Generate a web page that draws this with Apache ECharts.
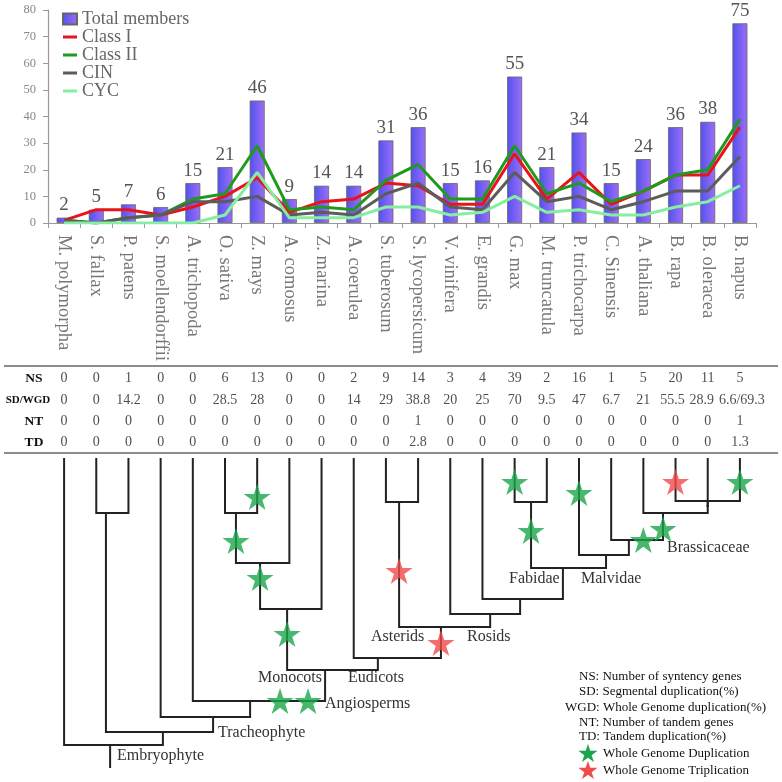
<!DOCTYPE html>
<html><head><meta charset="utf-8">
<script src="https://cdn.jsdelivr.net/npm/echarts@6/dist/echarts.min.js"></script>
<style>html,body{margin:0;padding:0;background:#fff}#c{width:782px;height:782px}</style>
</head><body><div id="c"></div>
<script>
// ---------- data ----------
const species = ['M. polymorpha','S. fallax','P. patens','S. moellendorffii','A. trichopoda','O. sativa','Z. mays','A. comosus','Z. marina','A. coerulea','S. tuberosum','S. lycopersicum','V. vinifera','E. grandis','G. max','M. truncatula','P. trichocarpa','C. Sinensis','A. thaliana','B. rapa','B. oleracea','B. napus'];
const totalMembers = [2,5,7,6,15,21,46,9,14,14,31,36,15,16,55,21,34,15,24,36,38,75];
const classI  = [1,5,5,3,6,10,17,4,8,9,15,14,7,7,26,9,19,7,12,18,18,36];
const classII = [1,0,2,3,9,11,29,5,6,5,16,22,9,9,29,11,15,8,12,18,20,39];
const cin     = [1,0,2,3,8,8,10,3,4,3,11,15,6,5,19,8,10,5,8,12,12,25];
const cyc     = [0,0,0,0,0,3,19,2,2,2,6,6,3,4,10,4,5,3,3,6,8,14];
const yMax = 80, yStep = 10;

const tableRows = ['NS','SD/WGD','NT','TD'];
const nsRow    = ['0','0','1','0','0','6','13','0','0','2','9','14','3','4','39','2','16','1','5','20','11','5'];
const sdwgdRow = ['0','0','14.2','0','0','28.5','28','0','0','14','29','38.8','20','25','70','9.5','47','6.7','21','55.5','28.9','6.6/69.3'];
const ntRow    = ['0','0','0','0','0','0','0','0','0','0','0','1','0','0','0','0','0','0','0','0','0','1'];
const tdRow    = ['0','0','0','0','0','0','0','0','0','0','0','2.8','0','0','0','0','0','0','0','0','0','1.3'];

// tree internal nodes: [name, childA, childB, x (species-index units), depth]
const treeNodes = [
  ['Bryophytes','S. fallax','P. patens',1.30,54],
  ['OZ','O. sativa','Z. mays',5.34,54],
  ['OZA','OZ','A. comosus',6.09,104],
  ['Monocots','OZA','Z. marina',6.93,150],
  ['Asterids','S. tuberosum','S. lycopersicum',10.41,43],
  ['Fabidae','G. max','M. truncatula',14.51,43],
  ['BrBn','B. rapa','B. napus',20.0,42],
  ['Brassica','B. oleracea','BrBn',20.0,47],
  ['Brassicaceae','A. thaliana','Brassica',18.61,54],
  ['CS','C. Sinensis','Brassicaceae',17.55,81],
  ['Malvidae','P. trichocarpa','CS',16.84,96],
  ['FabMal','Fabidae','Malvidae',15.50,109],
  ['EG','E. grandis','FabMal',14.17,140],
  ['Rosids','V. vinifera','EG',13.24,155],
  ['Core','Asterids','Rosids',11.71,168],
  ['Eudicots','A. coerulea','Core',9.75,199],
  ['Mesangio','Monocots','Eudicots',8.11,211],
  ['Angiosperms','A. trichopoda','Mesangio',5.78,242],
  ['Tracheophyte','S. moellendorffii','Angiosperms',4.63,258],
  ['Land','Bryophytes','Tracheophyte',3.07,273],
  ['Embryophyte','M. polymorpha','Land',1.43,286]
];
const rootStemEnd = 308;
// stars: [branch, depth, offset along horizontal]
const wgdStars = [['Z. mays',38,0],['OZ',82,0],['OZA',119,0],['Monocots',175,0],['Mesangio',242,-1.4],['Mesangio',242,-0.53],['G. max',23,0],['Fabidae',72,0],['P. trichocarpa',34,0],['Brassicaceae',70,0],['Brassicaceae',81,-0.61],['B. napus',23,0]];
const wgtStars = [['B. rapa',23,0],['Asterids',112,0],['Core',184,0]];

const cladeLabels = [['Embryophyte',117,756],['Tracheophyte',218,733],['Angiosperms',325,704],['Monocots',258,678],['Eudicots',348,678],['Asterids',371,637],['Rosids',467,637],['Fabidae',509,579],['Malvidae',581,579],['Brassicaceae',667,548]];
const notes = [['NS: Number of syntency genes',579,677],['SD: Segmental duplication(%)',579,692],['WGD: Whole Genome duplication(%)',565,708],['NT: Number of tandem genes',579,723],['TD: Tandem duplication(%)',579,737]];

// ---------- build ----------
const serif = "'Liberation Serif','Times New Roman',serif";
const GL = 48, GW = 708;
const pos = {};
species.forEach((s,i)=>{ pos[s] = {x:i, d:0}; });
treeNodes.forEach(n=>{ pos[n[0]] = {x:n[3], d:n[4]}; });
const segs = [];
treeNodes.forEach(n=>{
  [n[1],n[2]].forEach(c=>{
    segs.push({coords:[[pos[c].x,pos[c].d],[pos[c].x,n[4]],[n[3],n[4]]]});
  });
});
const root = treeNodes[treeNodes.length-1];
segs.push({coords:[[root[3],root[4]],[root[3],rootStemEnd]]});
const starPts = arr => arr.map(s=>[pos[s[0]].x + s[2], s[1]]);

// small label nudges for the crowded SD/WGD cells at the right end
const sdNudge = {19:-3, 20:-6, 21:2};
const tableData = [];
[nsRow, sdwgdRow, ntRow, tdRow].forEach((row,r)=>row.forEach((v,i)=>{
  const item = {value:[i, r, v]};
  if (r === 1 && sdNudge[i] !== undefined) item.label = {offset:[sdNudge[i],0]};
  tableData.push(item);
}));

const starPath = 'path://M50,0 L61.8,35.1 L98.9,35.1 L68.9,56.8 L80.3,91.9 L50,70.2 L19.7,91.9 L31.1,56.8 L1.1,35.1 L38.2,35.1 Z';
const lineIcon = 'path://M0,0L0.05,0L0,0.05Z M0,3.5L14,3.5L14,6.5L0,6.5Z M14,10L13.95,10L14,9.95Z';
const green = '#1aa64a', red = '#f04b4b';

const graphics = [
  {type:'line', shape:{x1:4,y1:366,x2:778,y2:366}, style:{stroke:'#666',lineWidth:1.5}},
  {type:'line', shape:{x1:4,y1:453,x2:778,y2:453}, style:{stroke:'#666',lineWidth:1.5}}
];
cladeLabels.forEach(l=>graphics.push({type:'text', x:l[1], y:l[2], style:{text:l[0], font:'16px '+serif, fill:'#333', align:'left', verticalAlign:'middle'}}));
notes.forEach(l=>graphics.push({type:'text', x:l[1], y:l[2], style:{text:l[0], font:'13px '+serif, fill:'#111', align:'left', verticalAlign:'middle'}}));
graphics.push({type:'text', x:588, y:755, style:{text:'★', font:'25px "DejaVu Sans"', fill:green, align:'center', verticalAlign:'middle'}});
graphics.push({type:'text', x:588, y:772, style:{text:'★', font:'25px "DejaVu Sans"', fill:red, align:'center', verticalAlign:'middle'}});
graphics.push({type:'text', x:603, y:754, style:{text:'Whole Genome Duplication', font:'13px '+serif, fill:'#111', align:'left', verticalAlign:'middle'}});
graphics.push({type:'text', x:603, y:771, style:{text:'Whole Genome Triplication', font:'13px '+serif, fill:'#111', align:'left', verticalAlign:'middle'}});

const lineSeries = (name, data, color) => ({name, type:'line', data, symbol:'none', xAxisIndex:0, yAxisIndex:0, lineStyle:{width:3, color}, itemStyle:{color}, z:3});

const option = {
  animation:false,
  backgroundColor:'#fff',
  legend:{data:[{name:'Total members', icon:'rect'},{name:'Class I', icon:lineIcon},{name:'Class II', icon:lineIcon},{name:'CIN', icon:lineIcon},{name:'CYC', icon:lineIcon}],
    orient:'vertical', left:57, top:5, itemWidth:14, itemHeight:11, itemGap:0,
    textStyle:{fontFamily:serif, fontSize:18, color:'#666', lineHeight:16.5}},
  grid:[
    {left:GL, top:10, width:GW, height:213},
    {left:GL, top:368, width:GW, height:85},
    {left:GL, top:459, width:GW, height:310}
  ],
  xAxis:[
    {type:'category', gridIndex:0, data:species, axisLine:{lineStyle:{color:'#999', width:1.2}}, axisTick:{show:true, length:5, lineStyle:{color:'#999'}},
      axisLabel:{interval:0, rotate:-90, margin:12, fontFamily:serif, fontSize:18.5, color:'#777'}},
    {type:'category', gridIndex:1, data:species, show:false},
    {type:'value', gridIndex:2, min:-0.5, max:21.5, show:false}
  ],
  yAxis:[
    {type:'value', gridIndex:0, min:0, max:yMax, interval:yStep, splitLine:{show:false},
      axisLine:{show:true, lineStyle:{color:'#999', width:1.2}}, axisTick:{show:true, length:5, lineStyle:{color:'#999'}},
      axisLabel:{fontFamily:serif, fontSize:12.5, color:'#888', margin:12}},
    {type:'category', gridIndex:1, data:tableRows, inverse:true, axisLine:{show:false}, axisTick:{show:false},
      axisLabel:{align:'center', margin:14, fontFamily:serif, fontSize:13.5, fontWeight:'bold', color:'#111',
        formatter:v=> v.length > 3 ? '{s|' + v + '}' : v,
        rich:{s:{fontFamily:serif, fontSize:11, fontWeight:'bold', color:'#111', padding:[0,12,0,0]}}}},
    {type:'value', gridIndex:2, min:0, max:310, inverse:true, show:false}
  ],
  series:[
    {name:'Total members', type:'bar', data:totalMembers, xAxisIndex:0, yAxisIndex:0, barWidth:15,
      itemStyle:{color:new echarts.graphic.LinearGradient(0,0,1,0,[{offset:0,color:'#5252ee'},{offset:1,color:'#9d6ef7'}]), borderColor:'#666', borderWidth:0.8},
      label:{show:true, position:'top', distance:3, fontFamily:serif, fontSize:19, color:'#555'}, z:2},
    lineSeries('Class I', classI, '#e8141c'),
    lineSeries('Class II', classII, '#1f9a1f'),
    lineSeries('CIN', cin, '#5c5c5c'),
    lineSeries('CYC', cyc, '#86eea0'),
    {name:'table', type:'scatter', xAxisIndex:1, yAxisIndex:1, data:tableData, symbolSize:1, itemStyle:{color:'transparent'}, silent:true,
      label:{show:true, position:'inside', formatter:p=>p.value[2], fontFamily:serif, fontSize:14, color:'#222'}},
    {name:'tree', type:'lines', coordinateSystem:'cartesian2d', xAxisIndex:2, yAxisIndex:2, polyline:true, data:segs, silent:true,
      lineStyle:{color:'#222', width:2, opacity:1, join:'miter', cap:'square'}},
    {name:'WGD', type:'scatter', xAxisIndex:2, yAxisIndex:2, data:starPts(wgdStars), symbol:starPath, symbolSize:[27,26], itemStyle:{color:green}, z:5, silent:true},
    {name:'WGT', type:'scatter', xAxisIndex:2, yAxisIndex:2, data:starPts(wgtStars), symbol:starPath, symbolSize:[27,26], itemStyle:{color:red}, z:5, silent:true}
  ],
  graphic:graphics
};
const chart = echarts.init(document.getElementById('c'));
chart.setOption(option);
</script>
</body></html>
